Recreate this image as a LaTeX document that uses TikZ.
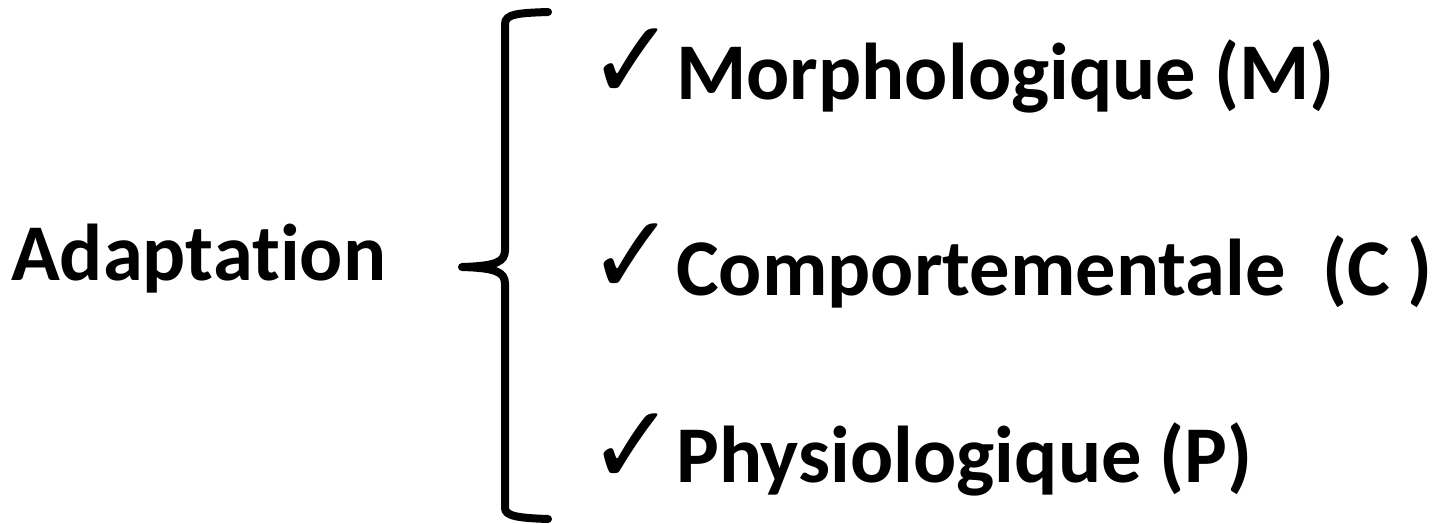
\documentclass[tikz,border=0pt]{standalone}
\usepackage{fontspec}
\setmainfont{Carlito}[Ligatures=NoCommon]
\newfontfamily\symfont{DejaVu Sans}
\begin{document}
\begin{tikzpicture}[x=1pt,y=-1pt,
    label text/.style={anchor=base west, inner sep=0pt, font=\fontsize{80.5}{90}\selectfont\bfseries},
    check mark/.style={anchor=base west, inner sep=0pt, font=\fontsize{104}{110}\selectfont\symfont}]
    \useasboundingbox (0,0) rectangle (1437,524);
    \node[label text] (adapt) at (11,280) {Adaptation};
    % brace
    \draw[line width=8pt, line cap=round, line join=round]
      (548,12) .. controls (518,13) and (505,14) .. (505,24)
      -- (505,250) .. controls (505,262) and (496,266) .. (462,267)
      .. controls (496,268) and (505,272) .. (505,284)
      -- (505,508) .. controls (505,516) and (518,518) .. (548,519);
    % items
    \node[check mark] (chk-m) at (588,100) {\scalebox{1}[1.08]{✓}};
    \node[label text] (morph) at (676,100) {Morphologique (M)};
    \node[check mark] (chk-c) at (588,294) {\scalebox{1}[1.08]{✓}};
    \node[label text] (comp) at (676,295) {Comportementale~~(C )};
    \node[check mark] (chk-p) at (588,484) {\scalebox{1}[1.08]{✓}};
    \node[label text] (phys) at (676,482) {Physiologique (P)};
\end{tikzpicture}
\end{document}
